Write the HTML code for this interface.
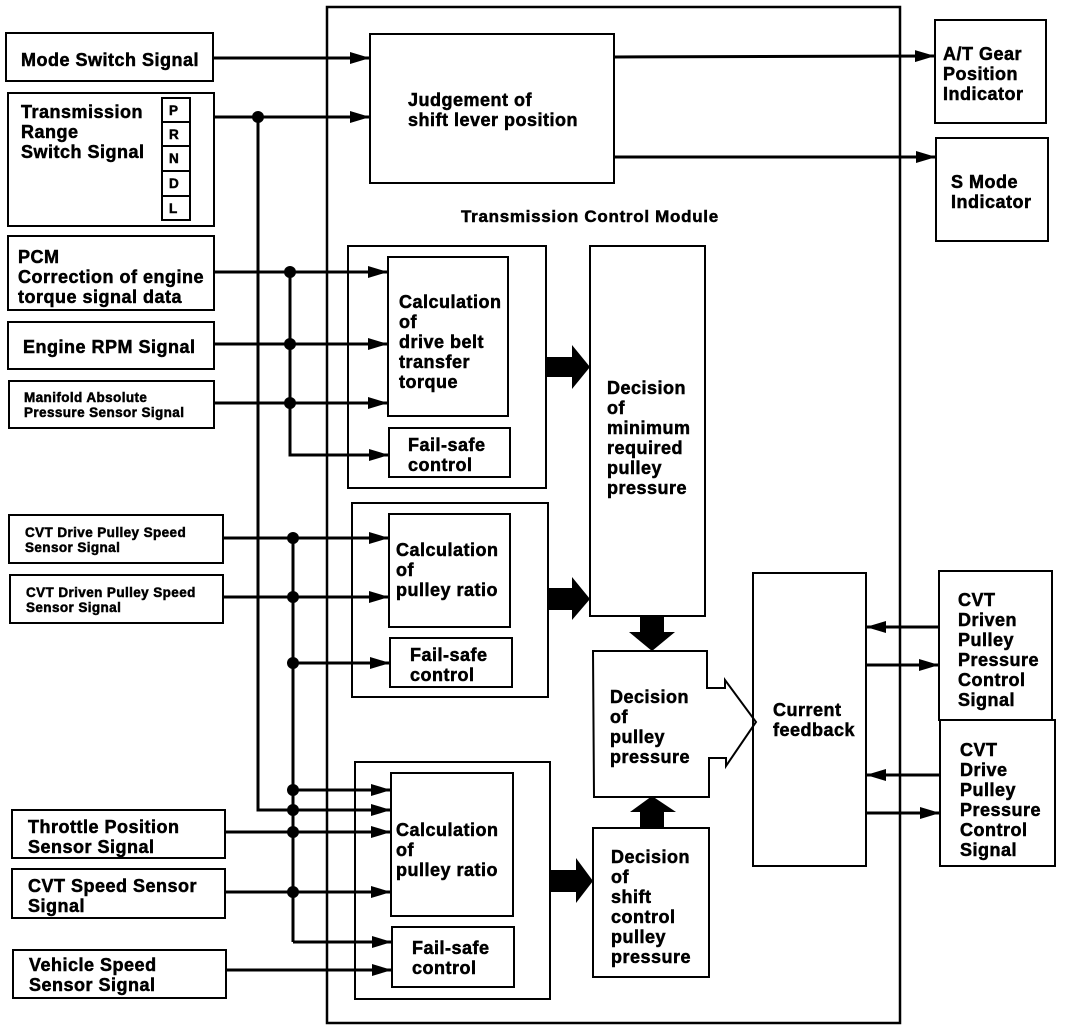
<!DOCTYPE html>
<html><head><meta charset="utf-8"><style>
html,body{margin:0;padding:0;background:#fff;}
svg{display:block;}
text{font-family:"Liberation Sans",Arial,sans-serif;font-weight:bold;fill:#000;stroke:#000;stroke-width:0.5;}
.t{font-size:18px;letter-spacing:0.5px;}
.s{font-size:13.5px;letter-spacing:0.4px;}
</style></head><body>
<svg width="1072" height="1030" viewBox="0 0 1072 1030" xmlns="http://www.w3.org/2000/svg">
<defs>
<marker id="a" viewBox="0 0 20 12" refX="20" refY="6" markerWidth="20" markerHeight="12" markerUnits="userSpaceOnUse" orient="auto"><path d="M0,0 L20,6 L0,12 Z" fill="#000"/></marker>
</defs>
<g fill="none" stroke="#000" stroke-width="3">
<rect x="327" y="7" width="573" height="1016" stroke-width="2.5"/>
<rect x="6" y="33" width="207" height="48" stroke-width="2"/>
<rect x="8" y="93" width="206" height="133" stroke-width="2"/>
<rect x="8" y="236" width="206" height="74" stroke-width="2"/>
<rect x="8" y="322" width="206" height="47" stroke-width="2"/>
<rect x="9" y="381" width="205" height="47" stroke-width="2"/>
<rect x="9" y="515" width="214" height="48" stroke-width="2"/>
<rect x="10" y="575" width="213" height="48" stroke-width="2"/>
<rect x="12" y="810" width="213" height="48" stroke-width="2"/>
<rect x="12" y="869" width="213" height="49" stroke-width="2"/>
<rect x="13" y="950" width="213" height="48" stroke-width="2"/>
<rect x="162" y="98" width="28" height="122" stroke-width="2"/>
<line x1="162" y1="122" x2="190" y2="122" stroke-width="2"/>
<line x1="162" y1="146" x2="190" y2="146" stroke-width="2"/>
<line x1="162" y1="171" x2="190" y2="171" stroke-width="2"/>
<line x1="162" y1="196" x2="190" y2="196" stroke-width="2"/>
<rect x="370" y="34" width="244" height="149" stroke-width="2"/>
<rect x="935" y="20" width="111" height="103" stroke-width="2"/>
<rect x="936" y="138" width="112" height="103" stroke-width="2"/>
<rect x="348" y="246" width="198" height="242" stroke-width="2"/>
<rect x="388" y="257" width="120" height="159" stroke-width="2"/>
<rect x="389" y="428" width="121" height="49" stroke-width="2"/>
<rect x="352" y="503" width="196" height="194" stroke-width="2"/>
<rect x="389" y="514" width="121" height="113" stroke-width="2"/>
<rect x="390" y="638" width="122" height="49" stroke-width="2"/>
<rect x="355" y="762" width="195" height="237" stroke-width="2"/>
<rect x="391" y="773" width="122" height="143" stroke-width="2"/>
<rect x="392" y="927" width="122" height="60" stroke-width="2"/>
<rect x="590" y="246" width="115" height="370" stroke-width="2"/>
<path d="M593,651 H707 V688 H725 V680 L756,722 L726,766 V758 H709 V797 H594 Z" stroke-width="2"/>
<rect x="593" y="828" width="116" height="149" stroke-width="2"/>
<rect x="753" y="573" width="113" height="293" stroke-width="2"/>
<rect x="939" y="571" width="113" height="149" stroke-width="2"/>
<rect x="940" y="720" width="115" height="146" stroke-width="2"/>
<line x1="213" y1="58" x2="370" y2="58" marker-end="url(#a)"/>
<line x1="214" y1="117" x2="370" y2="117" marker-end="url(#a)"/>
<line x1="614" y1="57" x2="935" y2="56" marker-end="url(#a)"/>
<line x1="614" y1="157" x2="936" y2="157" marker-end="url(#a)"/>
<polyline points="258,117 258,810 293,810"/>
<line x1="214" y1="272" x2="388" y2="272" marker-end="url(#a)"/>
<line x1="214" y1="344" x2="388" y2="344" marker-end="url(#a)"/>
<line x1="214" y1="403" x2="388" y2="403" marker-end="url(#a)"/>
<polyline points="290,272 290,455 389,455"/>
<line x1="370" y1="455" x2="389" y2="455" marker-end="url(#a)"/>
<line x1="223" y1="538" x2="389" y2="538" marker-end="url(#a)"/>
<line x1="223" y1="597" x2="389" y2="597" marker-end="url(#a)"/>
<line x1="293" y1="538" x2="293" y2="942"/>
<line x1="293" y1="663" x2="390" y2="663" marker-end="url(#a)"/>
<line x1="293" y1="790" x2="391" y2="790" marker-end="url(#a)"/>
<line x1="293" y1="810" x2="391" y2="810" marker-end="url(#a)"/>
<line x1="225" y1="832" x2="391" y2="832" marker-end="url(#a)"/>
<line x1="225" y1="892" x2="391" y2="892" marker-end="url(#a)"/>
<line x1="293" y1="942" x2="392" y2="942" marker-end="url(#a)"/>
<line x1="226" y1="970" x2="392" y2="970" marker-end="url(#a)"/>
<line x1="939" y1="627" x2="866" y2="627" marker-end="url(#a)"/>
<line x1="866" y1="665" x2="939" y2="665" marker-end="url(#a)"/>
<line x1="940" y1="775" x2="866" y2="775" marker-end="url(#a)"/>
<line x1="866" y1="813" x2="940" y2="813" marker-end="url(#a)"/>
</g>
<g fill="#000">
<circle cx="258" cy="117" r="6"/>
<circle cx="290" cy="272" r="6"/><circle cx="290" cy="344" r="6"/><circle cx="290" cy="403" r="6"/>
<circle cx="293" cy="538" r="6"/><circle cx="293" cy="597" r="6"/><circle cx="293" cy="663" r="6"/>
<circle cx="293" cy="790" r="6"/><circle cx="293" cy="810" r="6"/><circle cx="293" cy="832" r="6"/><circle cx="293" cy="892" r="6"/>
<path d="M546,357 H572 V345 L590,367 L572,389 V377 H546 Z"/>
<path d="M548,588 H572 V577 L590,599 L572,620 V610 H548 Z"/>
<path d="M550,870 H576 V858 L593,881 L576,903 V892 H550 Z"/>
<path d="M640,616 H664 V632 H675 L652,651 L629,632 H640 Z"/>
<path d="M640,828 H664 V812 H676 L652,796 L630,812 H640 Z"/>
</g>
<text class="t" x="21" y="66">Mode Switch Signal</text>
<text class="t"><tspan x="21" y="118">Transmission</tspan><tspan x="21" y="138">Range</tspan><tspan x="21" y="158">Switch Signal</tspan></text>
<text x="169" y="115" class="s">P</text><text x="169" y="139" class="s">R</text><text x="169" y="163" class="s">N</text><text x="169" y="188" class="s">D</text><text x="169" y="213" class="s">L</text>
<text class="t"><tspan x="18" y="263">PCM</tspan><tspan x="18" y="283">Correction of engine</tspan><tspan x="18" y="303">torque signal data</tspan></text>
<text class="t" x="23" y="353">Engine RPM Signal</text>
<text class="s"><tspan x="24" y="402">Manifold Absolute</tspan><tspan x="24" y="417">Pressure Sensor Signal</tspan></text>
<text class="s"><tspan x="25" y="537">CVT Drive Pulley Speed</tspan><tspan x="25" y="552">Sensor Signal</tspan></text>
<text class="s"><tspan x="26" y="597">CVT Driven Pulley Speed</tspan><tspan x="26" y="612">Sensor Signal</tspan></text>
<text class="t"><tspan x="28" y="833">Throttle Position</tspan><tspan x="28" y="853">Sensor Signal</tspan></text>
<text class="t"><tspan x="28" y="892">CVT Speed Sensor</tspan><tspan x="28" y="912">Signal</tspan></text>
<text class="t"><tspan x="29" y="971">Vehicle Speed</tspan><tspan x="29" y="991">Sensor Signal</tspan></text>
<text class="t"><tspan x="408" y="106">Judgement of</tspan><tspan x="408" y="126">shift lever position</tspan></text>
<text class="t" x="461" y="222" style="font-size:17px;letter-spacing:0.7px">Transmission Control Module</text>
<text class="t"><tspan x="943" y="60">A/T Gear</tspan><tspan x="943" y="80">Position</tspan><tspan x="943" y="100">Indicator</tspan></text>
<text class="t"><tspan x="951" y="188">S Mode</tspan><tspan x="951" y="208">Indicator</tspan></text>
<text class="t"><tspan x="399" y="308">Calculation</tspan><tspan x="399" y="328">of</tspan><tspan x="399" y="348">drive belt</tspan><tspan x="399" y="368">transfer</tspan><tspan x="399" y="388">torque</tspan></text>
<text class="t"><tspan x="408" y="451">Fail-safe</tspan><tspan x="408" y="471">control</tspan></text>
<text class="t"><tspan x="396" y="556">Calculation</tspan><tspan x="396" y="576">of</tspan><tspan x="396" y="596">pulley ratio</tspan></text>
<text class="t"><tspan x="410" y="661">Fail-safe</tspan><tspan x="410" y="681">control</tspan></text>
<text class="t"><tspan x="396" y="836">Calculation</tspan><tspan x="396" y="856">of</tspan><tspan x="396" y="876">pulley ratio</tspan></text>
<text class="t"><tspan x="412" y="954">Fail-safe</tspan><tspan x="412" y="974">control</tspan></text>
<text class="t"><tspan x="607" y="394">Decision</tspan><tspan x="607" y="414">of</tspan><tspan x="607" y="434">minimum</tspan><tspan x="607" y="454">required</tspan><tspan x="607" y="474">pulley</tspan><tspan x="607" y="494">pressure</tspan></text>
<text class="t"><tspan x="610" y="703">Decision</tspan><tspan x="610" y="723">of</tspan><tspan x="610" y="743">pulley</tspan><tspan x="610" y="763">pressure</tspan></text>
<text class="t"><tspan x="611" y="863">Decision</tspan><tspan x="611" y="883">of</tspan><tspan x="611" y="903">shift</tspan><tspan x="611" y="923">control</tspan><tspan x="611" y="943">pulley</tspan><tspan x="611" y="963">pressure</tspan></text>
<text class="t"><tspan x="773" y="716">Current</tspan><tspan x="773" y="736">feedback</tspan></text>
<text class="t"><tspan x="958" y="606">CVT</tspan><tspan x="958" y="626">Driven</tspan><tspan x="958" y="646">Pulley</tspan><tspan x="958" y="666">Pressure</tspan><tspan x="958" y="686">Control</tspan><tspan x="958" y="706">Signal</tspan></text>
<text class="t"><tspan x="960" y="756">CVT</tspan><tspan x="960" y="776">Drive</tspan><tspan x="960" y="796">Pulley</tspan><tspan x="960" y="816">Pressure</tspan><tspan x="960" y="836">Control</tspan><tspan x="960" y="856">Signal</tspan></text>
</svg>
</body></html>
